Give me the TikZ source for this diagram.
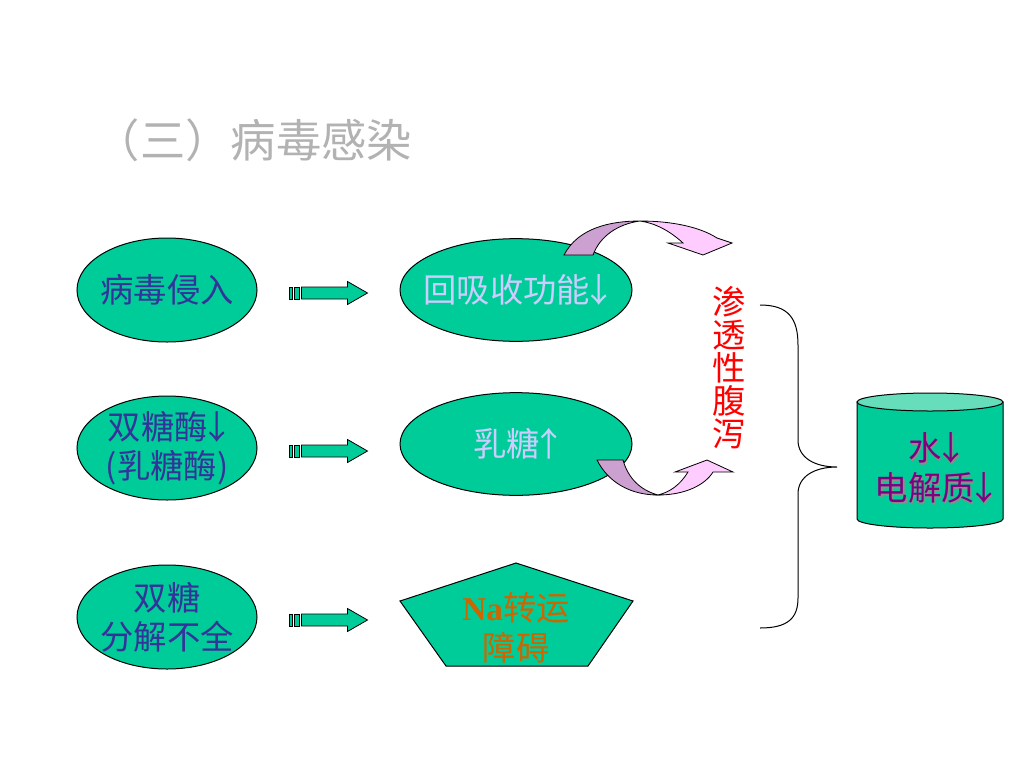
\documentclass[tikz,border=0pt]{standalone}
\usepackage{fontspec}
\setmainfont{Liberation Serif}
\newfontfamily\cjk{Noto Sans CJK SC}
\usetikzlibrary{calc,positioning,shapes.geometric}
\definecolor{cellgreen}{RGB}{0,204,153}
\definecolor{captop}{RGB}{102,221,187}
\definecolor{inkblue}{RGB}{51,51,153}
\definecolor{lilac}{RGB}{204,204,255}
\definecolor{backpink}{RGB}{204,160,208}
\definecolor{frontpink}{RGB}{255,204,255}
\definecolor{natext}{RGB}{204,102,0}
\definecolor{titlegray}{RGB}{178,178,178}
\definecolor{waterpurple}{RGB}{128,0,128}
\newcommand{\dnarrow}{\kern-0.22em↓\kern-0.22em}
\newcommand{\uparrowmark}{\kern-0.22em↑\kern-0.22em}

\begin{document}
\begin{tikzpicture}[x=0.75pt, y=-0.75pt,
    cell/.style={ellipse, draw=black, line width=0.75pt, fill=cellgreen,
        inner xsep=-20pt, inner ysep=0pt, align=center,
        font=\cjk\fontsize{25}{29}\selectfont},
    leftcell/.style={cell, minimum width=135pt, minimum height=78pt, text=inkblue},
    midcell/.style={cell, minimum width=174pt, minimum height=77pt, text=lilac},
    blockarrow/.style={draw=black, line width=0.6pt, fill=cellgreen},
    curl/.style={draw=black, line width=0.6pt}]
        \useasboundingbox (0,0) rectangle (1024,768);
        \node[anchor=west, text=titlegray, font=\cjk\fontsize{34}{40}\selectfont] (title) at (90,140) {（三）病毒感染};

        \node[leftcell] (virus) at (167,290) {病毒侵入};
        \node[leftcell] (enzyme) at (167,448) {双糖酶\dnarrow\\(乳糖酶)};
        \node[leftcell] (sugar) at (167,617) {双糖\\分解不全};

        \node[midcell] (absorb) at (516,290) {回吸收功能\dnarrow};
        \node[midcell] (lactose) at (516,444) {乳糖\uparrowmark};
        \draw[line width=0.75pt, fill=cellgreen] (516,563) -- (633,601) -- (588,666) -- (446,666) -- (400,601) -- cycle;
        \node[align=center, text=natext, font=\cjk\fontsize{25}{30}\selectfont] (na) at (516,628) {{\rmfamily\bfseries Na}转运\\障碍};

        \foreach \src in {virus, enzyme, sugar}
        {
            \begin{scope}[shift={($(\src.east)+(32,3)$)}]
                \draw[blockarrow] (0,-6) rectangle (3,6);
                \draw[blockarrow] (5,-6) rectangle (10,6);
                \draw[blockarrow] (12,-6) -- (58,-6) -- (58,-11.5) -- (78,0) -- (58,11.5) -- (58,6) -- (12,6) -- cycle;
            \end{scope}
        };

        % curved arrows
        \draw[curl, fill=backpink] (564,255) .. controls (578,228) and (610,221) .. (640,221) .. controls (618,224) and (600,236) .. (593,255) -- cycle;
        \draw[curl, fill=frontpink] (640,221) .. controls (672,221) and (700,227) .. (717,238) -- (732,243) -- (703,255) -- (668,243) -- (683,243) .. controls (670,231) and (655,223) .. (640,221) -- cycle;
        \draw[curl, fill=backpink] (597,460) .. controls (608,482) and (630,495) .. (658,495) .. controls (640,490) and (628,478) .. (623,460) -- cycle;
        \draw[curl, fill=frontpink] (658,495) .. controls (685,495) and (705,485) .. (713,472) -- (733,472) -- (707,460) -- (675,472) -- (688,472) .. controls (680,485) and (670,492) .. (658,495) -- cycle;

        \node[align=center, text=red, font=\cjk\fontsize{25}{24.75}\selectfont] (osmotic) at (729,368) {渗\\透\\性\\腹\\泻};

        \draw[line width=0.75pt] (760,305) .. controls (788,305) and (798,318) .. (798,345) -- (798,440) .. controls (798,458) and (815,467) .. (837,467) .. controls (815,467) and (798,476) .. (798,494) -- (798,598) .. controls (798,618) and (788,628) .. (760,628);

        % cylinder
        \draw[line width=0.75pt, fill=cellgreen] (857,402) -- (857,519) arc[start angle=180, end angle=360, x radius=54.75pt, y radius=6.75pt] -- (1003,402) -- cycle;
        \draw[line width=0.75pt, fill=captop] (930,402) ellipse[x radius=54.75pt, y radius=6.75pt];
        \node[align=center, text=black!45, font=\cjk\fontsize{25}{30}\selectfont] (watershadow) at (935.5,469.5) {水\dnarrow\\电解质\dnarrow};
        \node[align=center, text=waterpurple, font=\cjk\fontsize{25}{30}\selectfont] (water) at (934,468) {水\dnarrow\\电解质\dnarrow};
\end{tikzpicture}
\end{document}
